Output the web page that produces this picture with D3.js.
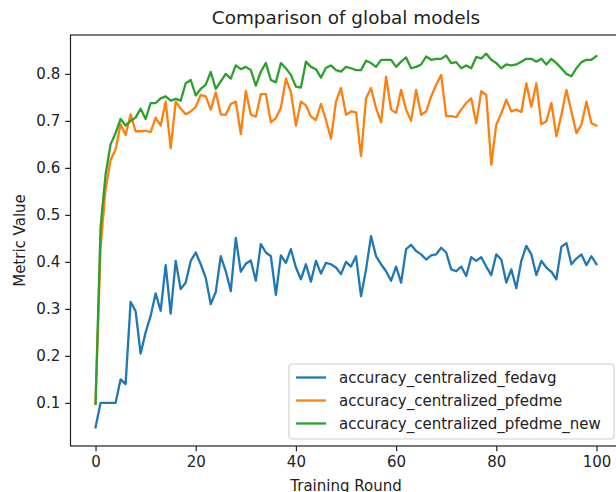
<!DOCTYPE html>
<html>
<head>
<meta charset="utf-8">
<script src="https://cdn.jsdelivr.net/npm/d3@7"></script>
<style>
  body { margin: 0; background: #fff; }
  svg text { font-family: "DejaVu Sans", sans-serif; fill: #222; }
</style>
</head>
<body>
<div id="chart"></div>
<script>
// training rounds 0..100
var rounds = d3.range(0, 101);

var fedavg = [
  0.048, 0.100, 0.100, 0.100, 0.100, 0.150, 0.140, 0.315, 0.295, 0.205,
  0.250, 0.285, 0.333, 0.296, 0.393, 0.290, 0.402, 0.342, 0.356, 0.402,
  0.420, 0.395, 0.366, 0.310, 0.336, 0.412, 0.380, 0.338, 0.451, 0.379,
  0.396, 0.403, 0.360, 0.438, 0.420, 0.412, 0.330, 0.414, 0.398, 0.427,
  0.388, 0.363, 0.395, 0.358, 0.402, 0.375, 0.398, 0.395, 0.388, 0.374,
  0.400, 0.390, 0.412, 0.327, 0.384, 0.455, 0.412, 0.395, 0.380, 0.360,
  0.390, 0.356, 0.427, 0.436, 0.423, 0.416, 0.405, 0.414, 0.416, 0.430,
  0.420, 0.384, 0.380, 0.390, 0.370, 0.410, 0.402, 0.410, 0.390, 0.372,
  0.416, 0.405, 0.356, 0.384, 0.344, 0.402, 0.434, 0.416, 0.372, 0.402,
  0.388, 0.379, 0.363, 0.432, 0.440, 0.395, 0.407, 0.416, 0.393, 0.412,
  0.395
];

var pfedme = [
  0.098, 0.430, 0.554, 0.617, 0.639, 0.693, 0.670, 0.714, 0.678, 0.678,
  0.679, 0.676, 0.707, 0.690, 0.741, 0.642, 0.741, 0.726, 0.714, 0.720,
  0.730, 0.755, 0.752, 0.724, 0.761, 0.714, 0.713, 0.736, 0.741, 0.672,
  0.764, 0.713, 0.709, 0.757, 0.757, 0.697, 0.706, 0.728, 0.790, 0.761,
  0.690, 0.741, 0.733, 0.709, 0.702, 0.736, 0.702, 0.662, 0.741, 0.770,
  0.713, 0.720, 0.718, 0.625, 0.748, 0.770, 0.727, 0.697, 0.794, 0.724,
  0.717, 0.766, 0.724, 0.700, 0.766, 0.713, 0.720, 0.752, 0.777, 0.798,
  0.710, 0.710, 0.708, 0.724, 0.738, 0.748, 0.695, 0.763, 0.755, 0.607,
  0.692, 0.716, 0.745, 0.720, 0.724, 0.719, 0.780, 0.730, 0.780, 0.693,
  0.699, 0.738, 0.667, 0.713, 0.766, 0.720, 0.674, 0.692, 0.741, 0.695,
  0.690
];

var pfedmeNew = [
  0.098, 0.473, 0.586, 0.650, 0.674, 0.704, 0.690, 0.700, 0.707, 0.726,
  0.704, 0.738, 0.738, 0.748, 0.752, 0.743, 0.747, 0.743, 0.780, 0.787,
  0.754, 0.768, 0.777, 0.804, 0.768, 0.784, 0.800, 0.790, 0.818, 0.810,
  0.815, 0.808, 0.775, 0.805, 0.823, 0.787, 0.782, 0.823, 0.812, 0.798,
  0.773, 0.771, 0.826, 0.815, 0.810, 0.792, 0.813, 0.818, 0.808, 0.805,
  0.815, 0.812, 0.808, 0.808, 0.828, 0.823, 0.815, 0.830, 0.830, 0.830,
  0.815, 0.826, 0.835, 0.812, 0.815, 0.820, 0.837, 0.830, 0.832, 0.832,
  0.839, 0.823, 0.825, 0.812, 0.818, 0.812, 0.836, 0.833, 0.843, 0.830,
  0.823, 0.812, 0.820, 0.818, 0.820, 0.826, 0.832, 0.832, 0.826, 0.832,
  0.820, 0.832, 0.823, 0.812, 0.800, 0.795, 0.812, 0.825, 0.830, 0.830,
  0.838
];

var seriesNames = ["accuracy_centralized_fedavg", "accuracy_centralized_pfedme", "accuracy_centralized_pfedme_new"];
var seriesColors = ["#1f77b4", "#ff7f0e", "#2ca02c"];
var xTicks = [0, 20, 40, 60, 80, 100];
var yTicks = [0.1, 0.2, 0.3, 0.4, 0.5, 0.6, 0.7, 0.8];

var cfg = {
  w: 616,
  h: 492,
  left: 70.5,
  right: 621.5,   // right spine sits just outside the picture
  top: 35,
  bottom: 446,
  font: 15,
  lineW: 2.3
};

var series = [fedavg, pfedme, pfedmeNew].map(function (vals, i) {
  return { name: seriesNames[i], color: seriesColors[i], values: vals };
});

var svg = d3.select("#chart").append("svg")
  .attr("width", cfg.w)
  .attr("height", cfg.h);

// matplotlib style 5% margins
var xMin = d3.min(rounds), xMax = d3.max(rounds);
var xPad = (xMax - xMin) * 0.05;
var allVals = fedavg.concat(pfedme, pfedmeNew);
var yMin = d3.min(allVals), yMax = d3.max(allVals);
var yPad = (yMax - yMin) * 0.05;

var x = d3.scaleLinear().domain([xMin - xPad, xMax + xPad]).range([cfg.left, cfg.right]);
var y = d3.scaleLinear().domain([yMin - yPad, yMax + yPad]).range([cfg.bottom, cfg.top]);

// lines
var line = d3.line()
  .x(function (d, i) { return x(rounds[i]); })
  .y(function (d) { return y(d); });

svg.append("g").selectAll("path")
  .data(series)
  .enter().append("path")
  .attr("d", function (d) { return line(d.values); })
  .attr("fill", "none")
  .attr("stroke", function (d) { return d.color; })
  .attr("stroke-width", cfg.lineW)
  .attr("stroke-linejoin", "round")
  .attr("stroke-linecap", "square");

// axes
var xAxis = d3.axisBottom(x).tickValues(xTicks).tickSize(5.3).tickPadding(5).tickFormat(d3.format("d"));
var yAxis = d3.axisLeft(y).tickValues(yTicks).tickSize(5.3).tickPadding(5).tickFormat(d3.format(".1f"));

svg.append("g")
  .attr("transform", "translate(0," + cfg.bottom + ")")
  .call(xAxis)
  .call(styleAxis);

svg.append("g")
  .attr("transform", "translate(" + cfg.left + ",0)")
  .call(yAxis)
  .call(styleAxis);

function styleAxis(g) {
  g.select(".domain").remove();
  g.selectAll(".tick line").attr("stroke", "#222").attr("stroke-width", 1.2);
  g.selectAll(".tick text").style("font-size", cfg.font + "px").attr("fill", "#222");
}

// frame
svg.append("rect")
  .attr("x", cfg.left)
  .attr("y", cfg.top)
  .attr("width", cfg.right - cfg.left)
  .attr("height", cfg.bottom - cfg.top)
  .attr("fill", "none")
  .attr("stroke", "#222")
  .attr("stroke-width", 1.2);

// title and axis labels
svg.append("text")
  .attr("x", (cfg.left + cfg.right) / 2)
  .attr("y", 24)
  .attr("text-anchor", "middle")
  .style("font-size", "18.4px")
  .text("Comparison of global models");

svg.append("text")
  .attr("x", (cfg.left + cfg.right) / 2)
  .attr("y", 491)
  .attr("text-anchor", "middle")
  .style("font-size", cfg.font + "px")
  .text("Training Round");

svg.append("text")
  .attr("transform", "translate(25," + (cfg.top + cfg.bottom) / 2 + ") rotate(-90)")
  .attr("text-anchor", "middle")
  .style("font-size", cfg.font + "px")
  .text("Metric Value");

// legend, lower right
var legend = svg.append("g").attr("transform", "translate(289,364)");
legend.append("rect")
  .attr("width", 325)
  .attr("height", 75)
  .attr("rx", 3)
  .attr("fill", "#fff")
  .attr("fill-opacity", 0.8)
  .attr("stroke", "#d0d0d0")
  .attr("stroke-width", 1.2);

var items = legend.selectAll(".item")
  .data(series)
  .enter().append("g")
  .attr("class", "item")
  .attr("transform", function (d, i) { return "translate(0," + (13.5 + i * 23) + ")"; });

items.append("line")
  .attr("x1", 7).attr("x2", 37)
  .attr("stroke", function (d) { return d.color; })
  .attr("stroke-width", cfg.lineW);

items.append("text")
  .attr("x", 50)
  .attr("dy", "0.35em")
  .style("font-size", cfg.font + "px")
  .text(function (d) { return d.name; });
</script>
</body>
</html>
